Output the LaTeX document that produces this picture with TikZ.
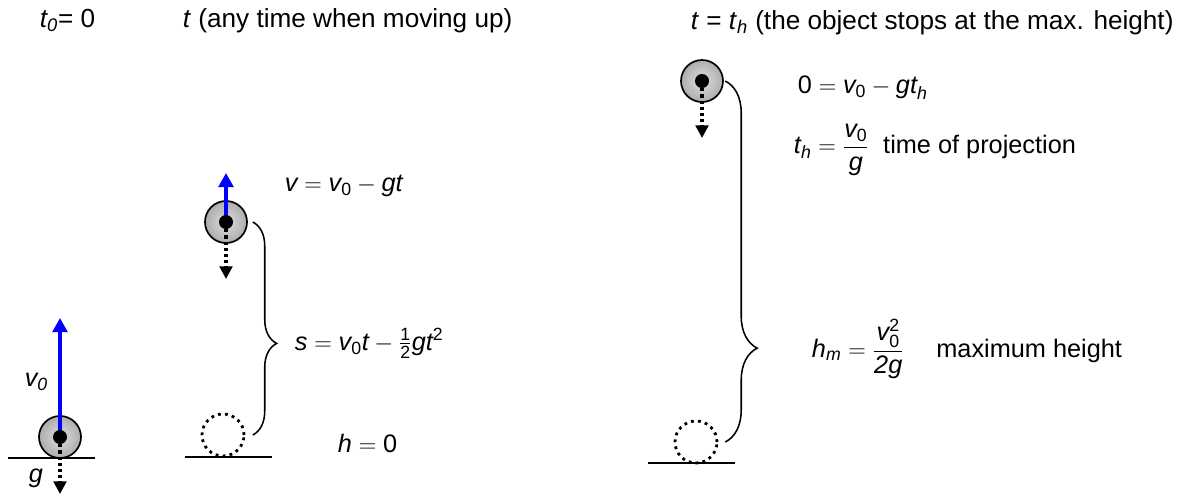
\documentclass[tikz,border=0pt]{standalone}
\usepackage{amsmath}
\usepackage{fontspec}
\setmainfont{Liberation Sans}
\usepackage{tikz}
\usetikzlibrary{arrows.meta,positioning,decorations.pathreplacing}
\definecolor{velblue}{RGB}{0,0,255}
\newcommand{\mvar}[1]{\text{\itshape #1}}
\newcommand{\mnum}[1]{\text{\upshape #1}}

\begin{document}
\begin{tikzpicture}[
  x=0.025cm, y=-0.025cm,
  font=\fontsize{18}{21}\selectfont,
  head/.style={anchor=base west, font=\fontsize{18.6}{22}\selectfont},
  ball/.style={circle, draw, line width=1.2pt, minimum size=1.05cm, inner sep=0pt, inner color=gray!25, outer color=gray!65},
  ghost/.style={circle, draw, line width=2pt, dash pattern=on 2pt off 3pt, minimum size=1.05cm, inner sep=0pt},
  core/.style={circle, fill=black, minimum size=0.35cm, inner sep=0pt},
  vel/.style={velblue, line width=2.2pt, -{Triangle[width=10.5pt,length=10pt]}},
  grav/.style={line width=2.2pt, dash pattern=on 2.2pt off 2.2pt, -{Triangle[width=9pt,length=9pt]}},
  ground/.style={line width=1pt},
  curly/.style={decorate, line width=1.1pt, decoration={brace, amplitude=#1}},
]
\useasboundingbox (0,0) rectangle (1181,495);

% Header
\node[head] (h0) at (35,27) {\textit{t\textsubscript{0}}= 0};
\node[head] (h1) at (178,27) {\textit{t} (any time when moving up)};
\node[head] (h2) at (686,29) {\textit{t} = \textit{t}\textsubscript{\textit{h}} (the object stops at the max. height)};

% Ground lines
\foreach \xa/\xb/\y in {8/95/458, 185/272/457, 648/735/463} {
  \draw[ground] (\xa,\y) -- (\xb,\y);
}

% Start (t = 0)
\node[ball] (b0) at (60,437) {};
\coordinate (v0tip) at (60,318);
\coordinate (g0tip) at (60,494);
\draw[vel] (b0.center) -- (v0tip);
\node[core] (c0) at (b0.center) {};
\draw[grav] (c0.south) -- (g0tip);
\node[anchor=east] (v0lab) at (53,382) {\textit{v\textsubscript{0}}};
\node (glab) at (36,478) {\textit{g}};

% Moving up
\node[ghost] (g1) at (223,435) {};
\node[ball] (b1) at (226,222) {};
\coordinate (v1tip) at (226,173);
\coordinate (g1tip) at (226,279);
\draw[vel] (b1.center) -- (v1tip);
\node[core] (c1) at (b1.center) {};
\draw[grav] (c1.south) -- (g1tip);
\draw[curly=17pt, decoration={aspect=0.57}] ([xshift=3.5pt]b1.east) -- ([xshift=3.5pt]b1.east |- g1.east);
\node[anchor=base west] (vform) at (280,191) {$\mvar{v} = \mvar{v}_{\mnum{0}} - \mvar{gt}$};
\node[anchor=base west] (sform) at (290,350) {$\mvar{s} = \mvar{v}_{\mnum{0}}\mvar{t} - \tfrac{\mnum{1}}{\mnum{2}}\mvar{gt}^{\mnum{2}}$};
\node[anchor=base west] (hzero) at (333,452) {$\mvar{h} = \mnum{0}$};

% Max. height
\node[ghost] (g2) at (696,442) {};
\node[ball] (b2) at (702,81) {};
\coordinate (g2tip) at (702,138);
\node[core] (c2) at (b2.center) {};
\draw[grav] (c2.south) -- (g2tip);
\draw[curly=22.7pt, decoration={aspect=0.74}] ([xshift=1pt]b2.east) -- ([xshift=1pt]b2.east |- g2.east);
\node[anchor=base west] (zform) at (793,93) {$\mnum{0} = \mvar{v}_{\mnum{0}} - \mvar{gt}_{\mvar{h}}$};
\node[anchor=west] (tform) at (789,150) {$\mvar{t}_{\mvar{h}} = \dfrac{\mvar{v}_{\mnum{0}}}{\mvar{g}}$\ \ time of projection};
\node[anchor=west] (hform) at (807,349) {$\mvar{h}_{\mvar{m}} = \dfrac{\mvar{v}_{\mnum{0}}^{\mnum{2}}}{\mvar{2g}}$\quad\ maximum height};
\end{tikzpicture}
\end{document}
